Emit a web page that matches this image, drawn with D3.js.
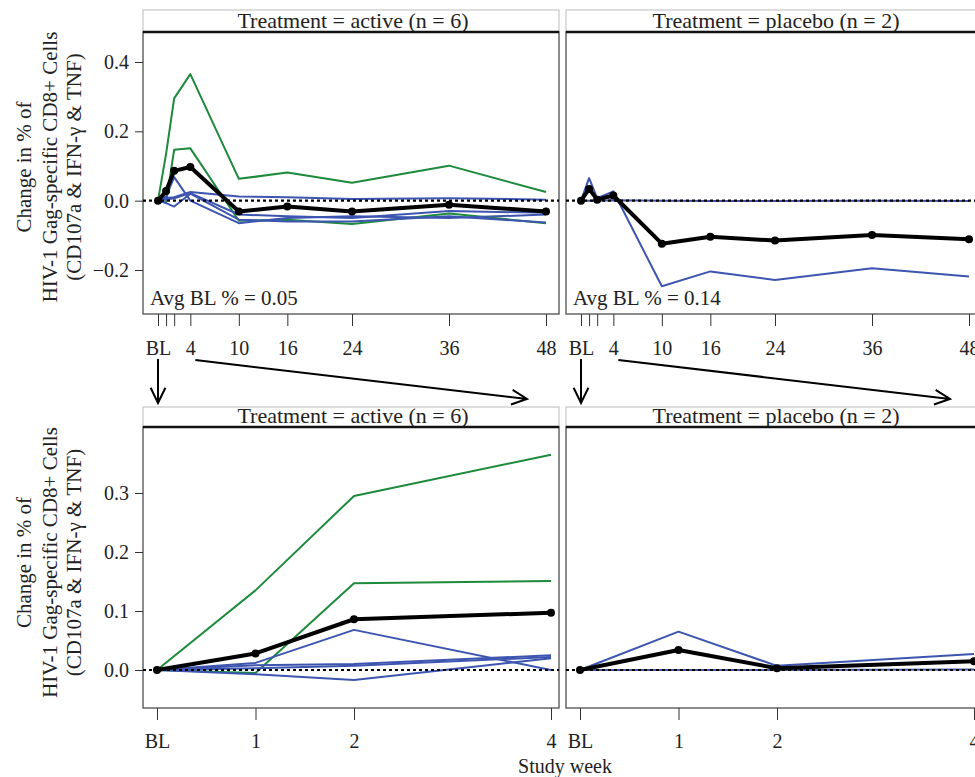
<!DOCTYPE html>
<html>
<head>
<meta charset="utf-8">
<script src="https://cdn.jsdelivr.net/npm/d3@7"></script>
<style>
  body { margin: 0; background: #fff; }
  svg text { font-family: "Liberation Serif", "DejaVu Serif", "Noto Serif", Times, serif !important; fill: #222; }
</style>
</head>
<body>
<svg width="975" height="777"></svg>
<script>
// weeks of the study, BL = 0
const weeks = [0, 1, 2, 4, 10, 16, 24, 36, 48];
const topTickLabels = ["BL", "", "", "4", "10", "16", "24", "36", "48"];
const bottomWeeks = [0, 1, 2, 4];
const bottomTickLabels = ["BL", "1", "2", "4"];
const topYTicks = [-0.2, 0, 0.2, 0.4];
const bottomYTicks = [0, 0.1, 0.2, 0.3];

const groups = ["active", "placebo"];
const groupN = [6, 2];
const avgBaseline = ["0.05", "0.14"];

// active arm, change from baseline per participant
const activeGreen1 = [0, 0.135, 0.295, 0.365, 0.063, 0.081, 0.052, 0.101, 0.025];
const activeGreen2 = [0, -0.005, 0.147, 0.151, -0.058, -0.055, -0.067, -0.037, -0.065];
const activeBlue1 = [0, 0.012, 0.068, 0.0, -0.065, -0.05, -0.045, -0.05, -0.04];
const activeBlue2 = [0, 0.008, 0.01, 0.025, 0.012, 0.01, 0.005, 0.007, 0.003];
const activeBlue3 = [0, -0.007, -0.017, 0.02, -0.055, -0.06, -0.06, -0.045, -0.063];
const activeBlue4 = [0, 0.003, 0.007, 0.022, -0.04, -0.045, -0.05, -0.03, -0.035];
const activeMean = [0, 0.028, 0.086, 0.097, -0.031, -0.017, -0.031, -0.012, -0.031];

// placebo arm
const placeboBlue1 = [0, 0.065, 0.007, 0.027, -0.247, -0.204, -0.229, -0.195, -0.219];
const placeboBlue2 = [0, 0.0, 0.0, 0.001, 0.0, -0.001, -0.001, 0.0, -0.001];
const placeboMean = [0, 0.034, 0.003, 0.015, -0.124, -0.104, -0.115, -0.099, -0.111];

const green = "#1d8a3c";
const blue = "#3d55b0";
const serif = '"Liberation Serif", "DejaVu Serif", "Noto Serif", Times, serif';

const seriesByGroup = {
  active: [
    { color: green, values: activeGreen1 },
    { color: green, values: activeGreen2 },
    { color: blue, values: activeBlue1 },
    { color: blue, values: activeBlue2 },
    { color: blue, values: activeBlue3 },
    { color: blue, values: activeBlue4 }
  ],
  placebo: [
    { color: blue, values: placeboBlue2 },
    { color: blue, values: placeboBlue1 }
  ]
};
const meanByGroup = { active: activeMean, placebo: placeboMean };

const svg = d3.select("svg");
const panelW = 416;
const panelX = [143, 566];

const rows = [
  { stripTop: 10, y0: 32, h: 282, maxWeek: 48,
    x: d3.scaleLinear().domain([0, 48]).range([15, 403]),
    y: d3.scaleLinear().domain([-0.2, 0.4]).range([238, 30]),
    yTicks: topYTicks, tickLabels: topTickLabels, tickWeeks: weeks, pad: 15 },
  { stripTop: 407, y0: 427, h: 281, maxWeek: 4,
    x: d3.scaleLinear().domain([0, 4]).range([14, 408]),
    y: d3.scaleLinear().domain([0, 0.3]).range([243, 66]),
    yTicks: bottomYTicks, tickLabels: bottomTickLabels, tickWeeks: bottomWeeks, pad: 14 }
];

rows.forEach((row, ri) => {
  groups.forEach((grp, gi) => {
    const g = svg.append("g").attr("transform", `translate(${panelX[gi]},${row.y0})`);
    const clipId = `clip-${ri}-${gi}`;
    g.append("clipPath").attr("id", clipId)
      .append("rect").attr("width", panelW).attr("height", row.h);

    // strip
    g.append("rect")
      .attr("x", 0).attr("y", row.stripTop - row.y0)
      .attr("width", panelW).attr("height", row.y0 - row.stripTop)
      .attr("fill", "#fff").attr("stroke", "#bbb").attr("stroke-width", 1);
    g.append("text")
      .attr("x", panelW / 2 + 2).attr("y", -4)
      .attr("text-anchor", "middle")
      .style("font-size", "22px")
      .text(`Treatment = ${grp} (n = ${groupN[gi]})`);

    // frame
    g.append("rect")
      .attr("width", panelW).attr("height", row.h)
      .attr("fill", "none").attr("stroke", "#666").attr("stroke-width", 1.5);
    g.append("line")
      .attr("x1", 0).attr("x2", panelW).attr("y1", 0).attr("y2", 0)
      .attr("stroke", "#111").attr("stroke-width", 2.5);

    const plot = g.append("g").attr("clip-path", `url(#${clipId})`);
    const wk = weeks.filter(w => w <= row.maxWeek);
    const line = d3.line()
      .x((d, i) => row.x(wk[i]))
      .y(d => row.y(d));

    seriesByGroup[grp].forEach(s => {
      plot.append("path")
        .attr("d", line(s.values.slice(0, wk.length)))
        .attr("fill", "none")
        .attr("stroke", s.color)
        .attr("stroke-width", 2)
        .attr("stroke-linejoin", "round");
    });

    plot.append("line")
      .attr("x1", 0).attr("x2", panelW)
      .attr("y1", row.y(0)).attr("y2", row.y(0))
      .attr("stroke", "#000").attr("stroke-width", 2.2)
      .attr("stroke-dasharray", "3,3");

    const mean = meanByGroup[grp].slice(0, wk.length);
    plot.append("path")
      .attr("d", line(mean))
      .attr("fill", "none")
      .attr("stroke", "#000")
      .attr("stroke-width", 4)
      .attr("stroke-linejoin", "round");
    plot.selectAll(".pt").data(mean).enter()
      .append("circle")
      .attr("cx", (d, i) => row.x(wk[i]))
      .attr("cy", d => row.y(d))
      .attr("r", 4)
      .attr("fill", "#000");

    if (ri === 0) {
      g.append("text")
        .attr("x", 7).attr("y", row.h - 9)
        .style("font-size", "21px")
        .text(`Avg BL % = ${avgBaseline[gi]}`);
    }

    // x axis
    const xa = g.append("g")
      .attr("transform", `translate(0,${row.h})`)
      .call(d3.axisBottom(row.x)
        .tickValues(row.tickWeeks)
        .tickSize(12)
        .tickPadding(row.pad)
        .tickFormat((d, i) => row.tickLabels[i]));
    xa.attr("font-family", serif);
    xa.select(".domain").remove();
    xa.selectAll("line").attr("stroke", "#333");
    xa.selectAll("text").style("font-size", "20px").attr("fill", "#222");

    // y axis only on the left panel
    if (gi === 0) {
      const ya = g.append("g")
        .call(d3.axisLeft(row.y)
          .tickValues(row.yTicks)
          .tickSize(8)
          .tickPadding(6)
          .tickFormat(d3.format(".1f")));
      ya.attr("font-family", serif);
      ya.select(".domain").remove();
      ya.selectAll("line").attr("stroke", "#333");
      ya.selectAll("text").style("font-size", "20px").attr("fill", "#222");
    }
  });

  // y axis title
  const titleLines = ["Change in % of", "HIV-1 Gag-specific CD8+ Cells", "(CD107a & IFN-\u03b3 & TNF)"];
  const cy = (row.stripTop + row.y0 + row.h) / 2 + 5;
  [31, 57, 81].forEach((bx, li) => {
    svg.append("text")
      .attr("transform", `translate(${bx},${cy}) rotate(-90)`)
      .attr("text-anchor", "middle")
      .style("font-size", "21px")
      .text(titleLines[li]);
  });
});

// x axis title
svg.append("text")
  .attr("x", 565).attr("y", 773)
  .attr("text-anchor", "middle")
  .style("font-size", "20px")
  .text("Study week");

svg.selectAll("text").style("font-family", serif);

// arrows from the early weeks of the top row to the zoomed bottom row
function arrow(x1, y1, x2, y2) {
  const ang = Math.atan2(y2 - y1, x2 - x1);
  const len = 17, spread = 0.45;
  const p = d3.path();
  p.moveTo(x1, y1); p.lineTo(x2, y2);
  p.moveTo(x2 - len * Math.cos(ang - spread), y2 - len * Math.sin(ang - spread));
  p.lineTo(x2, y2);
  p.lineTo(x2 - len * Math.cos(ang + spread), y2 - len * Math.sin(ang + spread));
  svg.append("path").attr("d", p.toString())
    .attr("fill", "none").attr("stroke", "#000").attr("stroke-width", 2);
}
const topX = rows[0].x;
panelX.forEach(px => {
  arrow(px + topX(0), 359, px + topX(0), 403);
  arrow(px + topX(4) + 5, 360, px + topX(48) - 19, 399);
});
</script>
</body>
</html>
